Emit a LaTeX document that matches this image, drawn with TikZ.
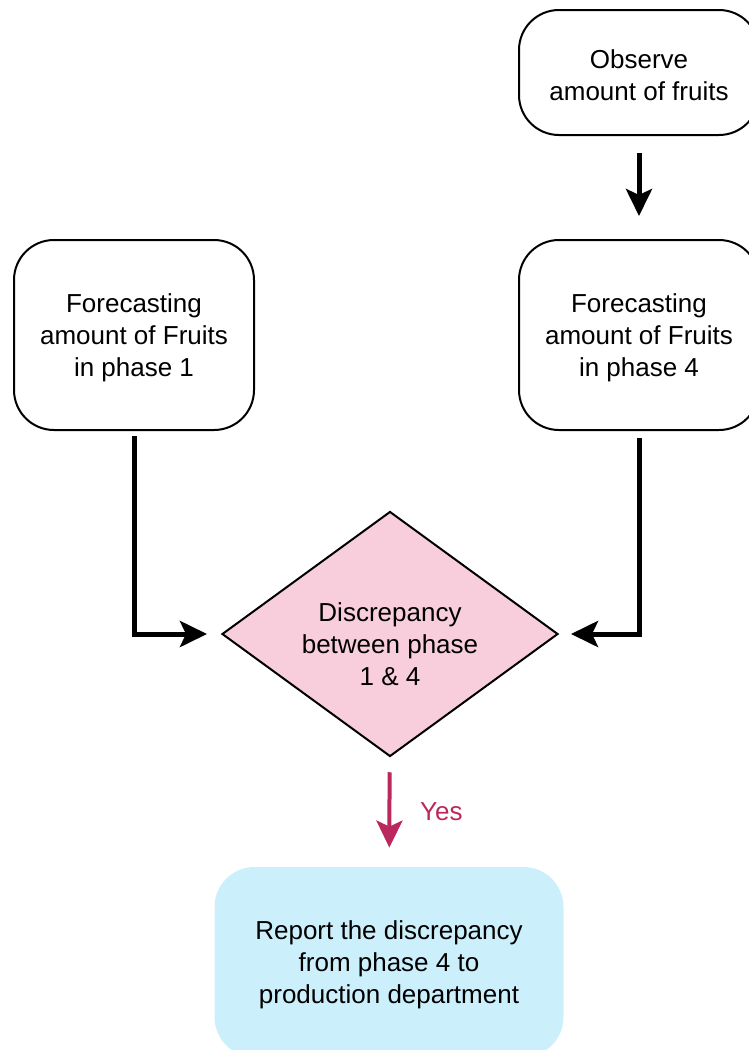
\documentclass[tikz,border=0pt]{standalone}
\usepackage{fontspec}
\setmainfont{Liberation Sans}
\usetikzlibrary{positioning,arrows.meta,shapes.geometric}
\definecolor{pinkfill}{RGB}{248,206,221}
\definecolor{yesred}{RGB}{186,40,94}
\definecolor{bluefill}{RGB}{204,239,252}
\tikzset{
flow/.style={
x=0.5pt, y=-0.5pt,
every node/.style={font=\fontsize{13}{16}\selectfont, align=center},
box/.style={draw, line width=1pt, rounded corners=20pt, minimum width=120pt, minimum height=95pt, text height=44.5pt},
decision/.style={diamond, draw, line width=1pt, fill=pinkfill, inner sep=0pt, aspect=1.37, minimum width=168pt, minimum height=122.5pt, text height=51.5pt},
report/.style={fill=bluefill, rounded corners=20pt, minimum width=174.5pt, minimum height=95pt, text height=44.5pt},
conn/.style={line width=2.5pt, -{Stealth[length=13.5pt, width=13pt, inset=3pt]}},
yes/.style={conn, line width=2pt, draw=yesred, fill=yesred},
}}
\begin{document}
\begin{tikzpicture}[flow]
\useasboundingbox (0,0) rectangle (749,1050);
\node[box, minimum height=62.5pt, text height=28.5pt] (obs) at (639,72.5) {Observe\\amount of fruits};
\node[box] (ph4) at (639,335) {Forecasting\\amount of Fruits\\in phase 4};
\node[box] (ph1) at (134,335) {Forecasting\\amount of Fruits\\in phase 1};
\node[decision] (disc) at (390,634) {Discrepancy\\between phase\\1 \& 4};
\node[report] (rep) at (389,962) {Report the discrepancy\\from phase 4 to\\production department};
%
\draw[conn, shorten <=8.5pt, shorten >=11.5pt] (obs) -- (ph4);
\draw[conn, shorten <=2.5pt, shorten >=7pt] (ph1.south) |- (disc.west);
\draw[conn, shorten <=3.5pt, shorten >=6pt] (ph4.south) |- (disc.east);
\draw[yes, shorten <=7.5pt, shorten >=9.5pt] (disc) -- node[right=11pt, text=yesred] {Yes} (rep);
\end{tikzpicture}
\end{document}
